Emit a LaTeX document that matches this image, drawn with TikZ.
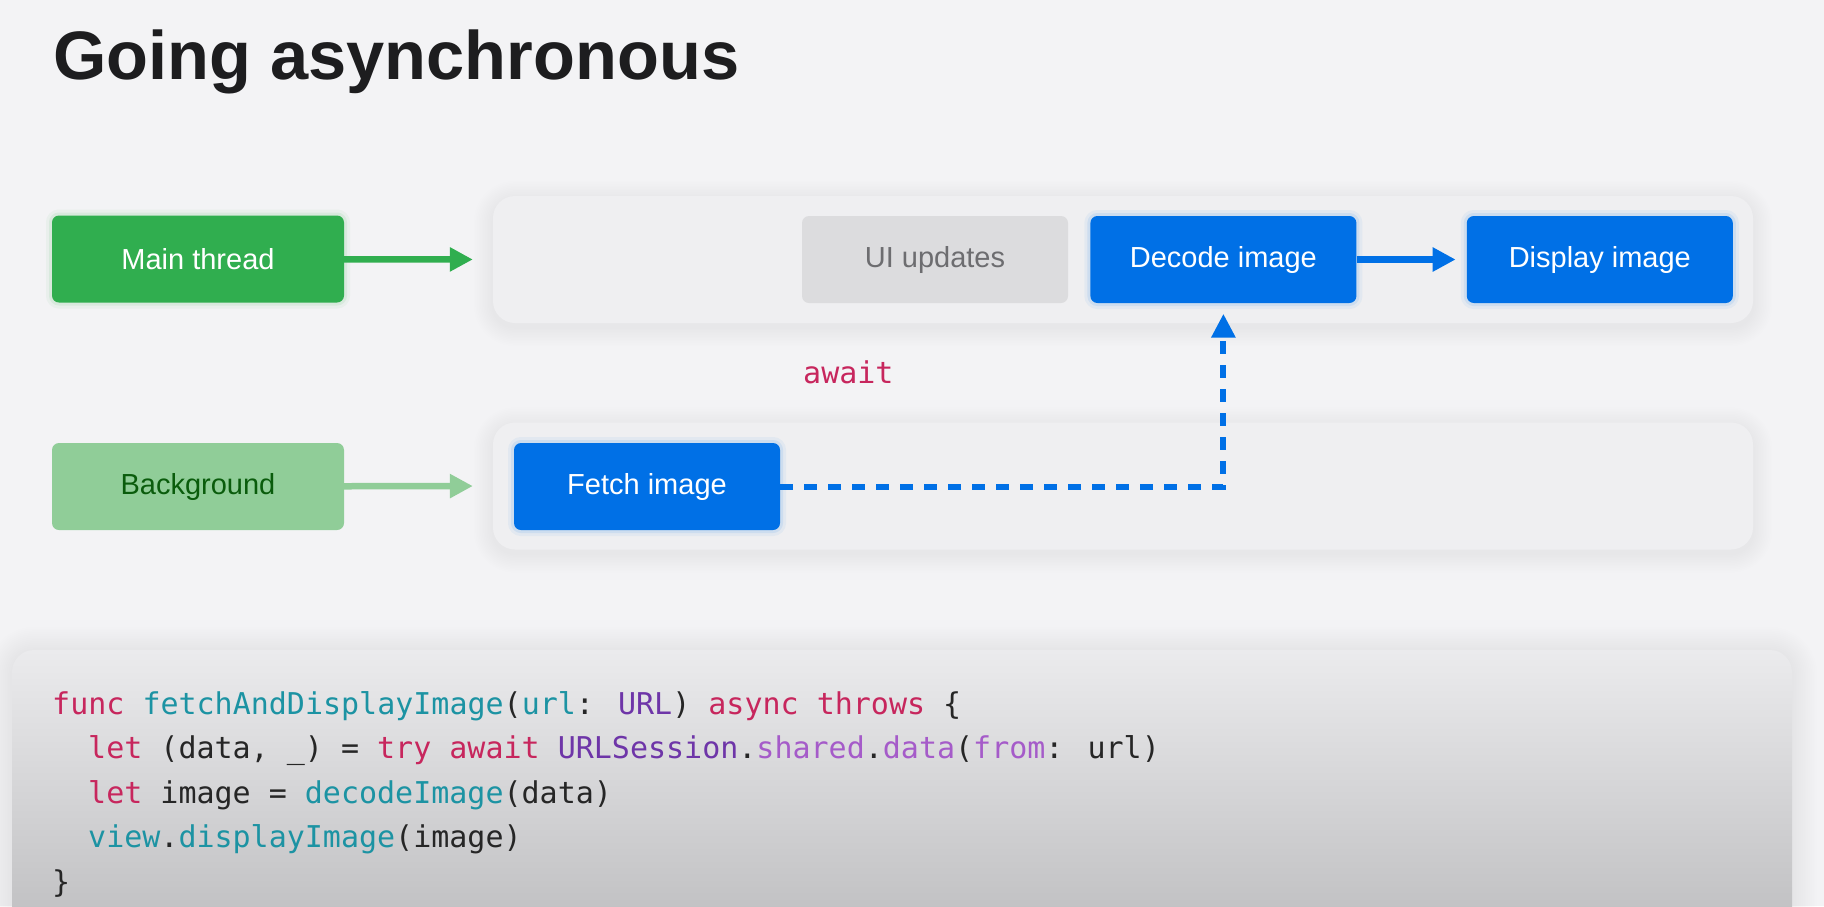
\documentclass[tikz,border=0pt]{standalone}
\usepackage{fontspec}
\setmainfont{Liberation Sans}
\newfontfamily\codefont{DejaVu Sans Mono}
\usepackage{tikz}
\usetikzlibrary{arrows.meta,positioning}
\usepackage{xcolor}
\definecolor{slidebg}{HTML}{F3F3F5}
\definecolor{lanefill}{HTML}{EFEFF1}
\definecolor{titleink}{HTML}{1D1D1F}
\definecolor{mainGreen}{HTML}{30AE4F}
\definecolor{bgGreen}{HTML}{90CD98}
\definecolor{bgGreenInk}{HTML}{0A5C0C}
\definecolor{taskBlue}{HTML}{0070E6}
\definecolor{idleGrey}{HTML}{DCDCDE}
\definecolor{idleInk}{HTML}{6D6D70}
\definecolor{codeTop}{HTML}{EBEBED}
\definecolor{codeBottom}{HTML}{BDBDBF}
\definecolor{codeInk}{HTML}{262626}
\definecolor{kwPink}{HTML}{C7265D}
\definecolor{fnTeal}{HTML}{1C93A3}
\definecolor{tyPurple}{HTML}{6E35A8}
\definecolor{mtViolet}{HTML}{A55BC9}

% syntax colours for the code panel
\newcommand{\kwd}[1]{\textcolor{kwPink}{#1}}
\newcommand{\fnc}[1]{\textcolor{fnTeal}{#1}}
\newcommand{\typ}[1]{\textcolor{tyPurple}{#1}}
\newcommand{\mth}[1]{\textcolor{mtViolet}{#1}}

\begin{document}
\begin{tikzpicture}[
    x=1pt,y=-1pt,
    lane/.style={fill=lanefill,rounded corners=22pt,minimum width=1260pt,minimum height=127pt,inner sep=0pt},
    softshadow/.style={black,opacity=.0045},
    box/.style={rounded corners=7pt,minimum width=266pt,minimum height=87pt,inner sep=0pt,
      font=\fontsize{29}{34}\selectfont,text=white},
    glow/.style={preaction={draw=#1,line width=12pt,opacity=.05},
      preaction={draw=#1,line width=6pt,opacity=.09}},
    task/.style={box,fill=taskBlue,glow=taskBlue},
    thread/.style={box,minimum width=292pt},
    arr/.style={-{Triangle[length=23pt,width=23pt]},line width=6.5pt},
    codeline/.style={anchor=base west,inner sep=0pt,font=\codefont\fontsize{30}{36}\selectfont,text=codeInk}
]
\useasboundingbox (0,0) rectangle (1824,906);
\fill[slidebg] (0,0) rectangle (1824,906);

\node[anchor=base west,inner sep=0pt,font=\fontsize{68.6}{80}\selectfont\bfseries,text=titleink] (title) at (53,79) {Going asynchronous};

% soft shadows under the lanes and the code panel
\foreach \c in {259.5,486}
  \foreach \g in {1,...,12}
    \fill[softshadow,rounded corners={22pt+1.6pt*\g}] (493-1.6*\g,\c-63.5-1.6*\g+4) rectangle (1753+1.6*\g,\c+63.5+1.6*\g+4);
\foreach \g in {1,...,14}
  \fill[softshadow,rounded corners={22pt+1.8pt*\g}] (12-1.8*\g,650-1.8*\g+2) rectangle (1792+1.8*\g,960);

% the two lanes
\node[lane] (mainlane) at (1123,259.5) {};
\node[lane] (bglane) at (1123,486) {};

% thread labels on the left
\node[thread,fill=mainGreen,glow=mainGreen] (main) at (198,259) {Main thread};
\node[thread,fill=bgGreen,text=bgGreenInk] (bg) at (198,486.5) {Background};
\draw[arr,mainGreen] (main) -- (mainlane.west) [shorten >=20pt];
\draw[arr,bgGreen] (bg) -- (bglane.west) [shorten >=20pt];

% work items
\node[box,fill=idleGrey,text=idleInk] (ui) at (935,259.5) {UI updates};
\node[task,right=22pt of ui] (decode) {Decode image};
\node[task,right=110pt of decode] (display) {Display image};
\node[task] (fetch) at (647,486.5) {Fetch image};

\draw[arr,taskBlue] (decode) -- (display) [shorten >=11pt];
\draw[taskBlue,line width=6pt,dash pattern=on 13pt off 11pt,-{Triangle[length=24pt,width=23pt]},shorten >=10.5pt] (fetch.east) -| (decode.south);
\node[anchor=base west,inner sep=0pt,font=\codefont\fontsize{30}{36}\selectfont,text=kwPink] (await) at (803,383) {await};

% code panel
\path[top color=codeTop,bottom color=codeBottom,rounded corners=22pt] (12,650) rectangle (1792,940);
\node[codeline] (l1) at (52,714) {\kwd{func} \fnc{fetchAndDisplayImage}(\fnc{url}: \typ{URL}) \kwd{async} \kwd{throws} \{};
\node[codeline] (l2) at (88,758.5) {\kwd{let} (data, \_) = \kwd{try} \kwd{await} \typ{URLSession}.\mth{shared}.\mth{data}(\mth{from}: url)};
\node[codeline] (l3) at (88,803) {\kwd{let} image = \fnc{decodeImage}(data)};
\node[codeline] (l4) at (88,847.5) {\fnc{view}.\fnc{displayImage}(image)};
\node[codeline] (l5) at (52,892) {\}};
\end{tikzpicture}
\end{document}
